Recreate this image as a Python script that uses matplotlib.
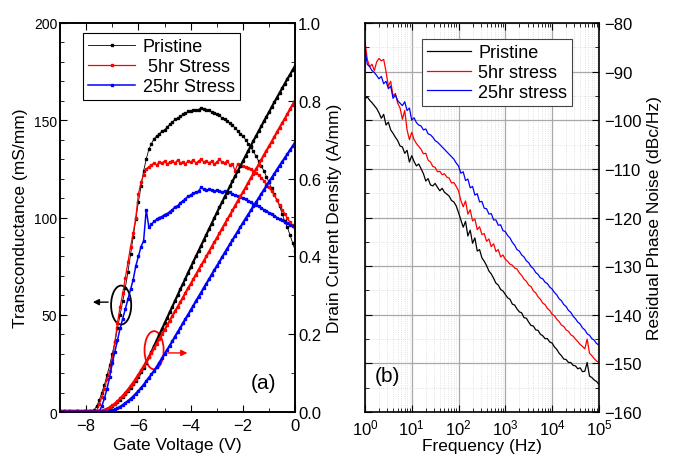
import matplotlib
matplotlib.use('Agg')
import matplotlib.pyplot as plt
from matplotlib.patches import Ellipse
from matplotlib.ticker import MultipleLocator, LogLocator, NullFormatter, FormatStrFormatter

plt.rcParams['font.family'] = ['Liberation Sans', 'DejaVu Sans']
plt.rcParams['mathtext.fontset'] = 'custom'
plt.rcParams['mathtext.rm'] = 'Liberation Sans'
plt.rcParams['mathtext.it'] = 'Liberation Sans:italic'

# %% data (a): gate sweep, -9 V .. 0 V
gate_v = [-9.0, -8.9, -8.8, -8.7, -8.6, -8.5, -8.4, -8.3, -8.2, -8.1,
          -8.0, -7.9, -7.8, -7.7, -7.6, -7.5, -7.4, -7.3, -7.2, -7.1,
          -7.0, -6.9, -6.8, -6.7, -6.6, -6.5, -6.4, -6.3, -6.2, -6.1,
          -6.0, -5.9, -5.8, -5.7, -5.6, -5.5, -5.4, -5.3, -5.2, -5.1,
          -5.0, -4.9, -4.8, -4.7, -4.6, -4.5, -4.4, -4.3, -4.2, -4.1,
          -4.0, -3.9, -3.8, -3.7, -3.6, -3.5, -3.4, -3.3, -3.2, -3.1,
          -3.0, -2.9, -2.8, -2.7, -2.6, -2.5, -2.4, -2.3, -2.2, -2.1,
          -2.0, -1.9, -1.8, -1.7, -1.6, -1.5, -1.4, -1.3, -1.2, -1.1,
          -1.0, -0.9, -0.8, -0.7, -0.6, -0.5, -0.4, -0.3, -0.2, -0.1, 0.0]

gm_pristine = [0.3, 0.2, 0.3, 0.2, 0.3, 0.2, 0.3, 0.3, 0.2, 0.3, 0.3, 0.4, 0.5,
               1, 3, 6, 10, 14, 19, 24, 30, 36, 43,
               50, 57, 64, 72, 81, 90, 99, 108, 116, 124,
               130, 135, 138, 140.5, 142, 143, 144.5, 145, 146.5, 148,
               149, 150.5, 151, 152, 153, 153.5, 154.5, 154.5, 155, 155.5,
               155.5, 156.5, 156, 155.5, 155.5, 154, 153.5, 153, 152.5, 151,
               150.5, 149.5, 148.5, 147.5, 146, 144.5, 143, 142, 140, 138,
               136, 134, 131.5, 129, 126.5, 124, 121, 118, 115, 112,
               109, 106, 102, 98, 95, 91, 87, 83]
gm_5hr = [0.5] * 15 + [4, 8, 12, 17, 21,
          27, 36, 46, 54, 61, 69, 77, 85, 92, 100,
          112, 118, 122, 125, 126, 127, 128, 127, 128.5, 128,
          129, 127.5, 128.5, 129, 128, 129.5, 128, 128.5, 127.5, 129,
          128.5, 129.5, 128, 129, 130, 128.5, 129, 128, 129, 127.5,
          128.5, 130, 128.5, 128, 129, 127, 127.5, 124, 127.5, 127,
          126.5, 126, 125.5, 125, 124, 123, 122, 120.5, 119, 117,
          115.5, 113.5, 111.5, 109, 106.5, 104, 102, 99.5, 97.5, 96, 94]
gm_25hr = [0.3] * 16 + [3, 7, 12, 18,
           25, 31, 37, 43, 48, 53, 58, 63, 68, 75,
           80, 85, 88, 104, 95, 96.5, 98, 99, 100, 100.5,
           101.5, 102, 103, 104, 105.5, 106, 107.5, 108.5, 109.5, 111,
           111.5, 112.5, 113, 113.5, 115.5, 114.5, 114, 114.5, 114, 113.5,
           114, 113.5, 113, 113.5, 112.5, 113, 112, 111.5, 111, 110.5,
           110, 109.5, 108.5, 108, 107, 106.5, 106, 105, 104, 103.5,
           102.5, 102, 101, 100, 99, 98.5, 97.5, 97, 96, 95.5, 95]

id_pristine = [0.001] * 15 + [0.002, 0.003, 0.005, 0.008, 0.011,
               0.015, 0.020, 0.026, 0.032, 0.039, 0.046, 0.054, 0.062, 0.071, 0.081,
               0.091, 0.102, 0.114, 0.127, 0.141, 0.155, 0.170, 0.184, 0.199, 0.213,
               0.228, 0.242, 0.257, 0.271, 0.286, 0.300, 0.315, 0.329, 0.343, 0.358,
               0.372, 0.386, 0.400, 0.414, 0.428, 0.442, 0.456, 0.470, 0.484, 0.498,
               0.512, 0.526, 0.539, 0.553, 0.566, 0.580, 0.593, 0.606, 0.619, 0.632,
               0.645, 0.658, 0.671, 0.684, 0.697, 0.709, 0.722, 0.734, 0.747, 0.759,
               0.771, 0.784, 0.796, 0.808, 0.820, 0.832, 0.844, 0.856, 0.867, 0.879, 0.890]
id_5hr = [0.002] * 16 + [0.003, 0.005, 0.008, 0.012,
          0.017, 0.022, 0.028, 0.035, 0.042, 0.050, 0.058, 0.067, 0.076, 0.086,
          0.096, 0.107, 0.118, 0.129, 0.141, 0.152, 0.164, 0.176, 0.188, 0.200,
          0.211, 0.223, 0.235, 0.247, 0.259, 0.270, 0.282, 0.294, 0.306, 0.318,
          0.329, 0.341, 0.353, 0.365, 0.377, 0.388, 0.400, 0.412, 0.424, 0.436,
          0.447, 0.459, 0.471, 0.483, 0.495, 0.506, 0.518, 0.530, 0.542, 0.554,
          0.565, 0.577, 0.589, 0.601, 0.613, 0.624, 0.636, 0.648, 0.660, 0.672,
          0.683, 0.695, 0.707, 0.719, 0.731, 0.742, 0.754, 0.766, 0.778, 0.790, 0.801]
id_25hr = [0.001] * 19 + [0.002,
           0.004, 0.007, 0.010, 0.014, 0.018, 0.023, 0.028, 0.034, 0.040, 0.047,
           0.054, 0.062, 0.070, 0.079, 0.088, 0.097, 0.106, 0.116, 0.127, 0.138,
           0.149, 0.160, 0.171, 0.182, 0.194, 0.205, 0.216, 0.228, 0.239, 0.250,
           0.262, 0.273, 0.285, 0.296, 0.307, 0.319, 0.330, 0.341, 0.353, 0.364,
           0.375, 0.386, 0.398, 0.409, 0.420, 0.431, 0.442, 0.453, 0.464, 0.475,
           0.486, 0.497, 0.507, 0.518, 0.529, 0.539, 0.550, 0.560, 0.571, 0.581,
           0.592, 0.602, 0.612, 0.623, 0.633, 0.643, 0.653, 0.663, 0.673, 0.683, 0.693]

# %% data (b): phase noise vs log10(frequency)
freq_exp = [0.00, 0.05, 0.10, 0.15, 0.20, 0.25, 0.30, 0.35, 0.40, 0.45,
            0.50, 0.55, 0.60, 0.65, 0.70, 0.75, 0.80, 0.85, 0.90, 0.95,
            1.00, 1.05, 1.10, 1.15, 1.20, 1.25, 1.30, 1.35, 1.40, 1.45,
            1.50, 1.55, 1.60, 1.65, 1.70, 1.75, 1.80, 1.85, 1.90, 1.95,
            2.00, 2.05, 2.10, 2.15, 2.20, 2.25, 2.30, 2.35, 2.40, 2.45,
            2.50, 2.55, 2.60, 2.65, 2.70, 2.75, 2.80, 2.85, 2.90, 2.95,
            3.00, 3.05, 3.10, 3.15, 3.20, 3.25, 3.30, 3.35, 3.40, 3.45,
            3.50, 3.55, 3.60, 3.65, 3.70, 3.75, 3.80, 3.85, 3.90, 3.95,
            4.00, 4.05, 4.10, 4.15, 4.20, 4.25, 4.30, 4.35, 4.40, 4.45,
            4.50, 4.55, 4.60, 4.65, 4.70, 4.75, 4.80, 4.85, 4.90, 4.95, 5.00]
pn_pristine = [-95.6, -95.2, -95.9, -96.4, -97.0, -97.6, -98.5, -99.6, -98.8, -101.0,
               -100.4, -102.0, -102.7, -103.5, -104.2, -105.3, -105.5, -106.8, -106.2, -108.6,
               -107.3, -108.5, -109.4, -109.0, -110.0, -111.0, -112.5, -112.0, -113.3, -113.5,
               -113.0, -113.8, -114.5, -114.0, -114.8, -115.2, -115.6, -116.5, -116.8, -117.6,
               -119.0, -120.5, -122.0, -120.8, -123.8, -122.6, -125.3, -124.2, -126.9, -126.6,
               -128.3, -129.0, -129.9, -131.0, -131.6, -132.5, -133.5, -133.9, -134.8, -135.1,
               -135.8, -136.5, -136.8, -137.8, -138.0, -138.8, -139.4, -139.6, -140.6, -140.7,
               -141.5, -142.2, -142.3, -143.1, -143.2, -144.0, -144.3, -144.9, -144.9, -145.6,
               -145.8, -146.6, -147.1, -147.9, -148.4, -149.1, -149.2, -149.8, -149.8, -150.4,
               -150.5, -151.1, -150.9, -151.7, -151.6, -149.8, -152.6, -152.9, -153.4, -153.7,
               -154.3]
pn_5hr = [-83.8, -87.5, -89.0, -88.5, -89.8, -88.0, -87.3, -87.8, -87.5, -90.0,
          -93.0, -92.0, -95.0, -94.5, -96.5, -97.5, -99.8, -98.0, -102.0, -104.0,
          -102.5, -104.0, -104.8, -105.4, -106.0, -106.9, -106.8, -108.2, -108.6, -109.5,
          -109.7, -110.6, -110.5, -111.2, -111.0, -111.7, -111.9, -112.9, -112.8, -113.6,
          -114.5, -116.5, -117.8, -116.6, -119.3, -118.4, -120.7, -120.3, -122.5, -121.9,
          -123.5, -123.3, -124.9, -124.4, -126.0, -125.4, -127.0, -126.6, -128.1, -127.7,
          -128.6, -129.0, -129.6, -129.8, -130.4, -130.6, -131.4, -131.9, -132.7, -133.1,
          -133.9, -134.2, -135.1, -135.5, -136.3, -136.8, -137.6, -137.9, -138.7, -139.1,
          -139.9, -140.2, -140.9, -141.4, -142.1, -142.4, -143.1, -143.4, -144.1, -144.4,
          -145.0, -145.5, -146.1, -146.5, -147.0, -145.0, -147.9, -148.4, -149.0, -149.5,
          -149.8]
pn_25hr = [-85.5, -88.5, -89.0, -89.8, -90.2, -90.8, -91.5, -91.0, -92.5, -92.0,
           -93.5, -93.0, -95.5, -94.8, -96.0, -96.5, -97.0, -96.2, -98.0, -97.5,
           -100.0, -99.5, -100.5, -101.0, -101.2, -102.0, -101.8, -102.8, -103.0, -103.5,
           -104.2, -104.5, -105.0, -105.5, -106.0, -106.5, -107.0, -107.5, -108.0, -108.8,
           -109.4, -110.9, -110.6, -112.4, -112.1, -113.9, -113.6, -115.4, -115.1, -116.8,
           -116.7, -118.1, -118.2, -119.3, -119.2, -120.5, -120.5, -121.6, -121.5, -122.7,
           -122.9, -123.7, -124.2, -125.1, -125.7, -126.6, -126.9, -127.7, -128.1, -128.9,
           -129.3, -130.1, -130.5, -131.3, -131.7, -132.4, -132.6, -133.3, -133.6, -134.3,
           -134.7, -135.4, -135.9, -136.7, -137.1, -137.9, -138.3, -139.1, -139.5, -140.3,
           -140.8, -141.5, -141.9, -142.7, -143.1, -143.9, -144.2, -144.9, -145.2, -145.9,
           -146.2]
freq = [10 ** e for e in freq_exp]

# %% figure
fig = plt.figure(figsize=(6.74, 4.6), dpi=100)
ax1 = fig.add_axes([0.089, 0.102, 0.349, 0.846])
ax1r = ax1.twinx()
ax2 = fig.add_axes([0.5415, 0.102, 0.347, 0.846])

# (a) transconductance
h1, = ax1.plot(gate_v, gm_pristine, '-', color='k', marker='s', ms=1.6, lw=0.6)
h2, = ax1.plot(gate_v, gm_5hr, '-', color='r', marker='s', ms=1.6, lw=0.9)
h3, = ax1.plot(gate_v, gm_25hr, '-', color='b', marker='s', ms=1.6, lw=1.1)
# drain current
ax1r.plot(gate_v, id_pristine, '-', color='k', marker='s', ms=1.6, lw=1.6)
ax1r.plot(gate_v, id_5hr, '-', color='r', marker='s', ms=1.6, lw=1.6)
ax1r.plot(gate_v, id_25hr, '-', color='b', marker='s', ms=1.6, lw=1.6)

ax1.set_xlim(-9, 0)
ax1.set_ylim(0, 200)
ax1r.set_ylim(0, 1.0)
ax1.xaxis.set_major_locator(MultipleLocator(2))
ax1.xaxis.set_minor_locator(MultipleLocator(1))
ax1.yaxis.set_major_locator(MultipleLocator(50))
ax1.yaxis.set_minor_locator(MultipleLocator(10))
ax1r.yaxis.set_major_locator(MultipleLocator(0.2))
ax1r.yaxis.set_minor_locator(MultipleLocator(0.1))
ax1.tick_params(which='both', direction='in', top=True)
ax1.tick_params(axis='y', labelsize=10, pad=2)
ax1.tick_params(axis='x', labelsize=12, pad=4)
ax1.tick_params(which='major', length=5)
ax1.tick_params(which='minor', length=3)
ax1r.tick_params(which='both', direction='in', labelsize=12, pad=2)
ax1r.tick_params(which='major', length=5)
ax1r.tick_params(which='minor', length=3)
ax1r.yaxis.set_major_formatter(FormatStrFormatter('%.1f'))
ax1.set_xlabel('Gate Voltage (V)', fontsize=12.5, labelpad=3)
ax1.set_ylabel('Transconductance (mS/mm)', fontsize=12.5, labelpad=4)
ax1r.set_ylabel('Drain Current Density (A/mm)', fontsize=12.5, labelpad=4)

ax1.add_patch(Ellipse((-6.66, 55), 0.77, 20, fill=False, ec='k', lw=1.3))
ax1.annotate('', xy=(-7.85, 56.5), xytext=(-7.05, 56.5),
             arrowprops=dict(arrowstyle='-|>', color='k', lw=1, mutation_scale=9))
ax1r.add_patch(Ellipse((-5.4, 0.159), 0.73, 0.098, fill=False, ec='r', lw=1.3))
ax1r.annotate('', xy=(-4.02, 0.152), xytext=(-4.98, 0.152),
              arrowprops=dict(arrowstyle='-|>', color='r', lw=1, mutation_scale=9))
ax1r.text(-1.2, 0.077, '(a)', fontsize=15, ha='center', va='center')

leg1 = ax1r.legend([h1, h2, h3], ['Pristine', ' 5hr Stress', '25hr Stress'],
                   loc='upper left', bbox_to_anchor=(0.098, 0.974), borderaxespad=0,
                   fontsize=13, fancybox=False, edgecolor='k', framealpha=1,
                   handlelength=2.6, labelspacing=0.15, borderpad=0.3,
                   handletextpad=0.4, numpoints=1, markerscale=1.2)
leg1.get_frame().set_linewidth(0.8)

# (b) residual phase noise
ax2.plot(freq, pn_pristine, color='k', lw=0.9, label='Pristine')
ax2.plot(freq, pn_5hr, color='r', lw=0.9, label='5hr stress')
ax2.plot(freq, pn_25hr, color='b', lw=0.9, label='25hr stress')
ax2.set_xscale('log')
ax2.set_xlim(1, 1e5)
ax2.set_ylim(-160, -80)
ax2.xaxis.set_major_locator(LogLocator(base=10, numticks=10))
ax2.xaxis.set_minor_locator(LogLocator(base=10, subs=range(2, 10), numticks=10))
ax2.xaxis.set_minor_formatter(NullFormatter())
ax2.yaxis.set_major_locator(MultipleLocator(10))
ax2.yaxis.set_minor_locator(MultipleLocator(5))
ax2.grid(which='major', color='#a8a8a8', lw=0.9)
ax2.grid(which='minor', color='#d8d8d8', lw=0.6, ls=':')
ax2.set_axisbelow(True)
ax2.tick_params(which='both', direction='in', top=True, right=True, left=True,
                labelleft=False, labelright=True, labelsize=12)
ax2.tick_params(which='major', length=5)
ax2.tick_params(which='minor', length=3)
ax2.tick_params(axis='x', pad=4)
ax2.yaxis.set_label_position('right')
ax2.set_ylabel('Residual Phase Noise (dBc/Hz)', fontsize=12.5, labelpad=4)
ax2.set_xlabel('Frequency (Hz)', fontsize=12.5, labelpad=0)
ax2.text(10 ** 0.47, -152.5, '(b)', fontsize=15, ha='center', va='center')

leg2 = ax2.legend(loc='upper left', bbox_to_anchor=(0.244, 0.959), borderaxespad=0,
                  fontsize=13, fancybox=False, edgecolor='#444444', framealpha=1,
                  handlelength=2.4, labelspacing=0.15, borderpad=0.3, handletextpad=0.4)
leg2.get_frame().set_linewidth(0.8)

for ax in (ax1, ax1r, ax2):
    for s in ax.spines.values():
        s.set_linewidth(1.2)

fig.savefig('out.png', dpi=100)
